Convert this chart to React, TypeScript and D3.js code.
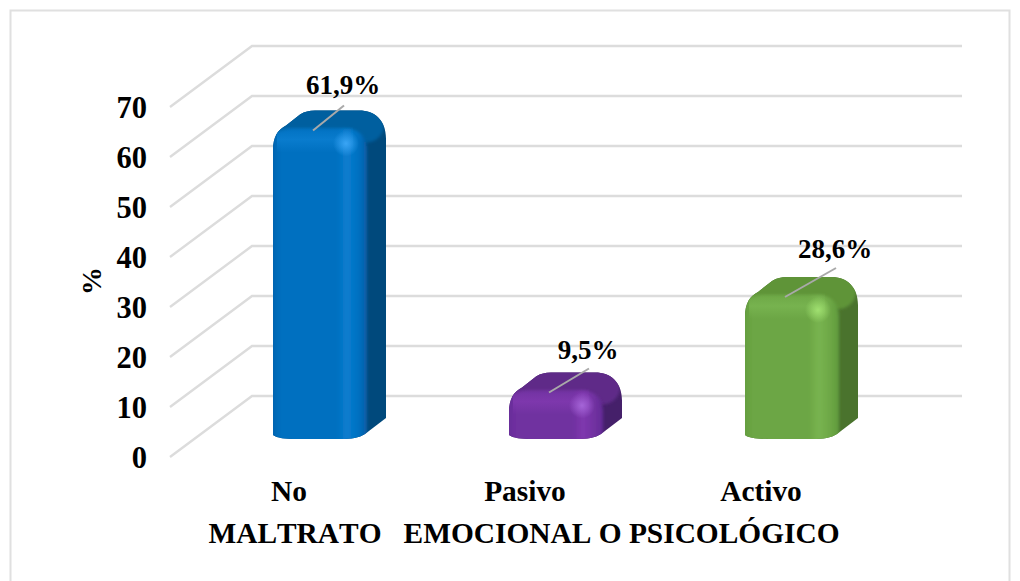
import React from "react";
import * as d3 from "d3";

const categories = ["No", "Pasivo", "Activo"];
const values = [61.9, 9.5, 28.6];
const valueLabels = ["61,9%", "9,5%", "28,6%"];
const tickValues = [0, 10, 20, 30, 40, 50, 60, 70];
const axisTitle = "%";
const xTitle = "MALTRATO   EMOCIONAL O PSICOLÓGICO";

const palettes = [
  { id: "b", edge: "#0a5ca6", base: "#0070c0", light: "#0a7dcf", glow: "#3aa5f5", top: "#005f9f", side: "#00497c" },
  { id: "p", edge: "#632a96", base: "#7030a0", light: "#7f38ae", glow: "#a565d8", top: "#5f2a88", side: "#45206a" },
  { id: "g", edge: "#5f9a3e", base: "#6ca644", light: "#78b450", glow: "#a0e070", top: "#5f9439", side: "#4a732d" },
];

const FONT = "'Liberation Serif','Times New Roman',serif";
const GRID = "#dcdcdc";
const DX = 21;
const DY = 20;
const BAR_W = 92;
const backDX = 82;
const backDY = 61;
const leaderEnd = [[31, -25], [40, -24], [51, -29]];
const labelDX = [24, 33, 44];
const labelY = [94, 359, 258];

export default function App() {
  const yWall = d3.scaleLinear().domain([0, 70]).range([457, 107]);
  const yBar = d3.scaleLinear().domain([0, 70]).range([438, 88]);
  const x = d3.scaleBand<string>().domain(categories).range([201, 909]);

  const bars = categories.map((c, i) => {
    const cx = (x(c) as number) + x.bandwidth() / 2;
    const l = cx - BAR_W / 2;
    const r = cx + BAR_W / 2;
    const t = yBar(values[i]);
    const b = yBar(0);

    const whole = d3.path();
    whole.moveTo(l, b - 3);
    whole.lineTo(l, t + 22);
    whole.bezierCurveTo(l, t + 8, l + 5, t + 1, l + 13, t - 3);
    whole.lineTo(l + 27, t - 14);
    whole.bezierCurveTo(l + 32, t - 17, l + 36, t - 18, l + 42, t - 18);
    whole.lineTo(r - 6, t - 18);
    whole.bezierCurveTo(r + 10, t - 18, r + DX, t - 8, r + DX, t + 10);
    whole.lineTo(r + DX, b - DY);
    whole.lineTo(r, b - 4);
    whole.bezierCurveTo(r - 6, b, r - 14, b + 1, r - 24, b + 1);
    whole.lineTo(l + 24, b + 1);
    whole.bezierCurveTo(l + 12, b + 1, l + 4, b, l, b - 3);
    whole.closePath();

    const front = d3.path();
    front.moveTo(l - 6, b + 6);
    front.lineTo(l - 6, t + 22);
    front.bezierCurveTo(l - 6, t + 8, l + 5, t + 1, l + 18, t);
    front.lineTo(r - 20, t);
    front.bezierCurveTo(r - 6, t, r + 2, t + 8, r + 2, t + 22);
    front.lineTo(r + 2, b + 6);
    front.closePath();

    return { c, i, cx, l, r, t, b, whole: whole.toString(), front: front.toString() };
  });

  return (
    <svg
      width={1020}
      height={581}
      style={{ position: "absolute", left: 0, top: 0, background: "#fff", fontFamily: FONT, fontKerning: "none" }}
    >
      <defs>
        <filter id="soft" x="-10%" y="-10%" width="120%" height="120%">
          <feGaussianBlur stdDeviation="1.6" />
        </filter>
        {bars.map((d) => (
          <clipPath id={`clip-${d.i}`} key={d.c}>
            <path d={d.whole} />
          </clipPath>
        ))}
        {palettes.map((p) => (
          <React.Fragment key={p.id}>
            <linearGradient id={`${p.id}-h`} x1="0" x2="1" y1="0" y2="0">
              <stop offset="0" stopColor={p.edge} />
              <stop offset="0.14" stopColor={p.base} />
              <stop offset="0.7" stopColor={p.base} />
              <stop offset="0.8" stopColor={p.light} />
              <stop offset="0.92" stopColor={p.base} />
              <stop offset="1" stopColor={p.edge} />
            </linearGradient>
            <radialGradient id={`${p.id}-glow`}>
              <stop offset="0" stopColor={p.glow} />
              <stop offset="1" stopColor={p.glow} stopOpacity={0} />
            </radialGradient>
            <linearGradient id={`${p.id}-band`} x1="0" x2="0" y1="0" y2="1">
              <stop offset="0" stopColor={p.light} stopOpacity={0} />
              <stop offset="0.5" stopColor={p.light} stopOpacity={0.9} />
              <stop offset="1" stopColor={p.light} stopOpacity={0} />
            </linearGradient>
          </React.Fragment>
        ))}
      </defs>

      <path d="M10.5 581V10.5H1009.5V581" fill="none" stroke="#e0e0e0" strokeWidth={2} />

      {tickValues.map((v) => (
        <path
          key={v}
          d={`M170 ${yWall(v)}L${170 + backDX} ${yWall(v) - backDY}H962`}
          fill="none"
          stroke={GRID}
          strokeWidth={2.4}
        />
      ))}

      {bars.map((d) => {
        const p = palettes[d.i];
        return (
          <g key={d.c} clipPath={`url(#clip-${d.i})`}>
            <rect x={d.l} y={d.t - 20} width={BAR_W + DX + 2} height={d.b - d.t + 24} fill={p.side} />
            <rect x={d.l} y={d.t - 20} width={BAR_W + DX - 2} height={34} fill={p.top} rx={18} filter="url(#soft)" />
            <path d={d.front} fill={`url(#${p.id}-h)`} filter="url(#soft)" />
            <rect x={d.l + 4} y={d.t - 2} width={BAR_W - 16} height={26} fill={`url(#${p.id}-band)`} />
            <ellipse cx={d.r - 19} cy={d.t + 15} rx={13} ry={13} fill={`url(#${p.id}-glow)`} />
          </g>
        );
      })}

      {bars.map((d) => (
        <g key={d.c}>
          <line
            x1={d.cx - 6}
            y1={d.t + 2}
            x2={d.cx - 6 + leaderEnd[d.i][0]}
            y2={d.t + 2 + leaderEnd[d.i][1]}
            stroke="#a9a9a9"
            strokeWidth={2}
          />
          <text
            x={d.cx + labelDX[d.i]}
            y={labelY[d.i]}
            textAnchor="middle"
            fontSize={27}
            fontWeight={700}
            fill="#000"
          >
            {valueLabels[d.i]}
          </text>
        </g>
      ))}

      {tickValues.map((v) => (
        <text key={v} x={147} y={yWall(v) + 10.5} textAnchor="end" fontSize={30.5} fontWeight={700} fill="#000">
          {v}
        </text>
      ))}
      <text
        transform="translate(101,281) rotate(-90)"
        textAnchor="middle"
        fontSize={28}
        fontWeight={700}
        fill="#000"
      >
        {axisTitle}
      </text>

      {bars.map((d) => (
        <text key={d.c} x={d.cx - 30} y={501} textAnchor="middle" fontSize={29.4} fontWeight={700} fill="#000">
          {d.c}
        </text>
      ))}
      <text x={524} y={543} textAnchor="middle" fontSize={29.4} fontWeight={700} fill="#000" style={{ whiteSpace: "pre" }}>
        {xTitle}
      </text>
    </svg>
  );
}
